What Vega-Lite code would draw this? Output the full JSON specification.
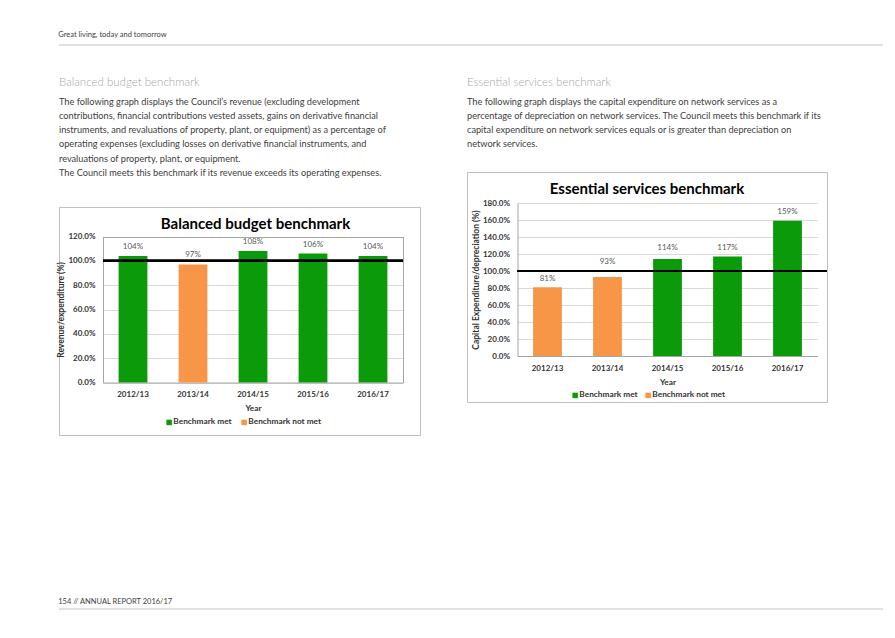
{
  "$schema": "https://vega.github.io/schema/vega-lite/v6.json",
  "background": "white",
  "padding": {"left": 56, "top": 30, "right": 10, "bottom": 5},
  "config": {
    "font": "Lato",
    "view": {"stroke": null},
    "title": {"anchor": "start", "fontWeight": "normal"}
  },
  "resolve": {"scale": {"color": "independent"}, "legend": {"color": "independent"}},
  "spacing": 161,
  "vconcat": [
    {
      "spacing": 30,
      "resolve": {"scale": {"color": "independent"}, "legend": {"color": "independent"}},
      "vconcat": [
        {
          "title": {"text": "Great living, today and tomorrow", "anchor": "start", "fontSize": 7.5, "fontWeight": "normal", "color": "#404040", "offset": 6},
          "width": 824,
          "height": 1,
          "data": {"values": [{"line": 0}]},
          "mark": {"type": "rule", "color": "#d9d9d9", "strokeWidth": 1.5},
          "encoding": {"y": {"field": "line", "type": "quantitative", "axis": null, "scale": {"domain": [0, 1]}}}
        },
        {
          "spacing": 45,
          "resolve": {"scale": {"color": "independent"}, "legend": {"color": "independent"}},
          "hconcat": [
            {
              "spacing": 27,
              "resolve": {"scale": {"color": "independent"}, "legend": {"color": "independent"}},
              "vconcat": [
                {
                  "title": {
                    "text": "Balanced budget benchmark",
                    "subtitle": [
                      "The following graph displays the Council’s revenue (excluding development",
                      "contributions, financial contributions vested assets, gains on derivative financial",
                      "instruments, and revaluations of property, plant, or equipment) as a percentage of",
                      "operating expenses (excluding losses on derivative financial instruments, and",
                      "revaluations of property, plant, or equipment.",
                      "The Council meets this benchmark if its revenue exceeds its operating expenses."
                    ],
                    "orient": "bottom",
                    "anchor": "start", "fontSize": 11.5, "fontWeight": 300, "color": "#a6a6a6",
                    "subtitleFontSize": 9.2, "subtitleColor": "#404040", "subtitleLineHeight": 14.3, "subtitlePadding": 9, "offset": 0
                  },
                  "width": 361,
                  "height": 1,
                  "data": {"values": []},
                  "mark": {"type": "point", "opacity": 0},
                  "encoding": {}
                },
                {
                  "width": 361,
                  "height": 228,
                  "view": {"stroke": "#bfbfbf", "strokeWidth": 1},
                  "title": {"text": "Balanced budget benchmark", "anchor": "middle", "fontSize": 15, "fontWeight": "bold", "color": "#000000", "offset": -25, "dx": 16},
                  "data": {"values": [
                    {"year": "2012/13", "value": 1.04, "status": "Benchmark met"},
                    {"year": "2013/14", "value": 0.97, "status": "Benchmark not met"},
                    {"year": "2014/15", "value": 1.08, "status": "Benchmark met"},
                    {"year": "2015/16", "value": 1.06, "status": "Benchmark met"},
                    {"year": "2016/17", "value": 1.04, "status": "Benchmark met"}
                  ]},
                  "resolve": {"scale": {"x": "independent"}, "axis": {"y": "independent"}},
                  "layer": [
                    {
                      "mark": {"type": "bar"},
                      "encoding": {
                        "x": {"field": "year", "type": "nominal", "sort": null,
                          "scale": {"type": "band", "range": [44, 344], "paddingInner": 0.52, "paddingOuter": 0.26},
                          "axis": {"orient": "bottom", "offset": -52.5, "labelAngle": 0, "ticks": false, "domainColor": "#a6a6a6", "labelPadding": 7.5, "labelFontSize": 8, "labelFontWeight": "bold", "labelColor": "#333333", "title": "Year", "titleFontSize": 8.3, "titleFontWeight": "bold", "titleColor": "#333333", "titlePadding": 5}},
                        "y": {"field": "value", "type": "quantitative",
                          "scale": {"domain": [0, 1.2], "range": [175.5, 29.5]},
                          "axis": {"orient": "left", "offset": -44, "format": ".1%", "values": [0, 0.2, 0.4, 0.6, 0.8, 1, 1.2], "ticks": false, "domainColor": "#a6a6a6", "grid": true,
                            "gridColor": {"condition": {"test": "datum.value > 1.19", "value": "#a6a6a6"}, "value": "#d9d9d9"},
                            "labelPadding": 8, "labelFontSize": 8, "labelFontWeight": "bold", "labelColor": "#333333",
                            "title": "Revenue/expenditure (%)", "titleFontSize": 8.5, "titleFontWeight": "bold", "titleColor": "#333333", "titlePadding": 2}},
                        "color": {"field": "status", "type": "nominal",
                          "scale": {"domain": ["Benchmark met", "Benchmark not met"], "range": ["#0a9a0a", "#f79646"]},
                          "legend": {"orient": "none", "legendX": 106, "legendY": 211, "direction": "horizontal", "title": null, "symbolType": "square", "symbolSize": 30, "symbolStrokeWidth": 0, "labelFontSize": 8.3, "labelFontWeight": "bold", "labelColor": "#333333", "labelOffset": 0, "columnPadding": 8}}
                      }
                    },
                    {
                      "mark": {"type": "text", "baseline": "bottom", "dy": -5, "fontSize": 8, "color": "#595959"},
                      "encoding": {
                        "x": {"field": "year", "type": "nominal", "sort": null,
                          "scale": {"type": "band", "range": [44, 344], "paddingInner": 0.52, "paddingOuter": 0.26}, "axis": null},
                        "y": {"field": "value", "type": "quantitative", "axis": null},
                        "text": {"field": "value", "type": "quantitative", "format": ".0%"}
                      }
                    },
                    {
                      "mark": {"type": "rule", "color": "#000000", "strokeWidth": 2},
                      "encoding": {
                        "x": {"datum": 0, "type": "quantitative", "scale": {"domain": [0, 1], "range": [44, 344]}, "axis": null},
                        "x2": {"datum": 1},
                        "y": {"datum": 1, "type": "quantitative", "axis": {"orient": "right", "offset": -17, "labels": false, "ticks": false, "grid": false, "title": null, "domainColor": "#a6a6a6"}}
                      }
                    }
                  ]
                }
              ]
            },
            {
              "spacing": 21,
              "resolve": {"scale": {"color": "independent"}, "legend": {"color": "independent"}},
              "vconcat": [
                {
                  "title": {
                    "text": "Essential services benchmark",
                    "subtitle": [
                      "The following graph displays the capital expenditure on network services as a",
                      "percentage of depreciation on network services. The Council meets this benchmark if its",
                      "capital expenditure on network services equals or is greater than depreciation on",
                      "network services."
                    ],
                    "orient": "bottom",
                    "anchor": "start", "fontSize": 11.5, "fontWeight": 300, "color": "#a6a6a6",
                    "subtitleFontSize": 9.2, "subtitleColor": "#404040", "subtitleLineHeight": 14.3, "subtitlePadding": 9, "offset": 0
                  },
                  "width": 360,
                  "height": 1,
                  "data": {"values": []},
                  "mark": {"type": "point", "opacity": 0},
                  "encoding": {}
                },
                {
                  "width": 360,
                  "height": 230,
                  "view": {"stroke": "#bfbfbf", "strokeWidth": 1},
                  "title": {"text": "Essential services benchmark", "anchor": "middle", "fontSize": 15, "fontWeight": "bold", "color": "#000000", "offset": -25},
                  "data": {"values": [
                    {"year": "2012/13", "value": 0.81, "status": "Benchmark not met"},
                    {"year": "2013/14", "value": 0.93, "status": "Benchmark not met"},
                    {"year": "2014/15", "value": 1.14, "status": "Benchmark met"},
                    {"year": "2015/16", "value": 1.17, "status": "Benchmark met"},
                    {"year": "2016/17", "value": 1.59, "status": "Benchmark met"}
                  ]},
                  "resolve": {"scale": {"x": "independent"}, "axis": {"y": "independent"}},
                  "layer": [
                    {
                      "mark": {"type": "bar"},
                      "encoding": {
                        "x": {"field": "year", "type": "nominal", "sort": null,
                          "scale": {"type": "band", "range": [50.5, 350.5], "paddingInner": 0.52, "paddingOuter": 0.26},
                          "axis": {"orient": "bottom", "offset": -46, "labelAngle": 0, "ticks": false, "domainColor": "#a6a6a6", "labelPadding": 8, "labelFontSize": 8, "labelFontWeight": "bold", "labelColor": "#333333", "title": "Year", "titleFontSize": 8.3, "titleFontWeight": "bold", "titleColor": "#333333", "titlePadding": 5}},
                        "y": {"field": "value", "type": "quantitative",
                          "scale": {"domain": [0, 1.8], "range": [184, 31]},
                          "axis": {"orient": "left", "offset": -50.5, "format": ".1%", "values": [0, 0.2, 0.4, 0.6, 0.8, 1, 1.2, 1.4, 1.6, 1.8], "ticks": false, "domainColor": "#a6a6a6", "grid": true, "gridColor": "#d9d9d9",
                            "labelPadding": 8, "labelFontSize": 8, "labelFontWeight": "bold", "labelColor": "#333333",
                            "title": "Capital Expenditure/depreciation (%)", "titleFontSize": 8.5, "titleFontWeight": "bold", "titleColor": "#333333", "titlePadding": 2}},
                        "color": {"field": "status", "type": "nominal",
                          "scale": {"domain": ["Benchmark met", "Benchmark not met"], "range": ["#0a9a0a", "#f79646"]},
                          "legend": {"orient": "none", "legendX": 104, "legendY": 219, "direction": "horizontal", "title": null, "symbolType": "square", "symbolSize": 30, "symbolStrokeWidth": 0, "labelFontSize": 8.3, "labelFontWeight": "bold", "labelColor": "#333333", "labelOffset": 0, "columnPadding": 6}}
                      }
                    },
                    {
                      "transform": [{"filter": {"not": {"field": "year", "oneOf": ["2013/14", "2014/15"]}}}],
                      "mark": {"type": "text", "baseline": "bottom", "dy": -4.5, "fontSize": 8, "color": "#595959"},
                      "encoding": {
                        "x": {"field": "year", "type": "nominal", "sort": null,
                          "scale": {"type": "band", "domain": ["2012/13", "2013/14", "2014/15", "2015/16", "2016/17"], "range": [50.5, 350.5], "paddingInner": 0.52, "paddingOuter": 0.26}, "axis": null},
                        "y": {"field": "value", "type": "quantitative", "axis": null},
                        "text": {"field": "value", "type": "quantitative", "format": ".0%"}
                      }
                    },
                    {
                      "transform": [{"filter": {"field": "year", "equal": "2013/14"}}],
                      "mark": {"type": "text", "baseline": "bottom", "dy": -11, "fontSize": 8, "color": "#595959"},
                      "encoding": {
                        "x": {"field": "year", "type": "nominal", "sort": null,
                          "scale": {"type": "band", "domain": ["2012/13", "2013/14", "2014/15", "2015/16", "2016/17"], "range": [50.5, 350.5], "paddingInner": 0.52, "paddingOuter": 0.26}, "axis": null},
                        "y": {"field": "value", "type": "quantitative", "axis": null},
                        "text": {"field": "value", "type": "quantitative", "format": ".0%"}
                      }
                    },
                    {
                      "transform": [{"filter": {"field": "year", "equal": "2014/15"}}],
                      "mark": {"type": "text", "baseline": "bottom", "dy": -7.5, "fontSize": 8, "color": "#595959"},
                      "encoding": {
                        "x": {"field": "year", "type": "nominal", "sort": null,
                          "scale": {"type": "band", "domain": ["2012/13", "2013/14", "2014/15", "2015/16", "2016/17"], "range": [50.5, 350.5], "paddingInner": 0.52, "paddingOuter": 0.26}, "axis": null},
                        "y": {"field": "value", "type": "quantitative", "axis": null},
                        "text": {"field": "value", "type": "quantitative", "format": ".0%"}
                      }
                    },
                    {
                      "mark": {"type": "rule", "color": "#000000", "strokeWidth": 2},
                      "encoding": {
                        "x": {"datum": 0, "type": "quantitative", "scale": {"domain": [0, 1], "range": [50.5, 360]}, "axis": null},
                        "x2": {"datum": 1},
                        "y": {"datum": 1, "type": "quantitative", "axis": null}
                      }
                    }
                  ]
                }
              ]
            }
          ]
        }
      ]
    },
    {
      "title": {"text": "154 // ANNUAL REPORT 2016/17", "anchor": "start", "fontSize": 7.5, "fontWeight": "normal", "color": "#404040", "offset": 3},
      "width": 824,
      "height": 1,
      "data": {"values": [{"line": 0}]},
      "mark": {"type": "rule", "color": "#d9d9d9", "strokeWidth": 1.5},
      "encoding": {"y": {"field": "line", "type": "quantitative", "axis": null, "scale": {"domain": [0, 1]}}}
    }
  ]
}
